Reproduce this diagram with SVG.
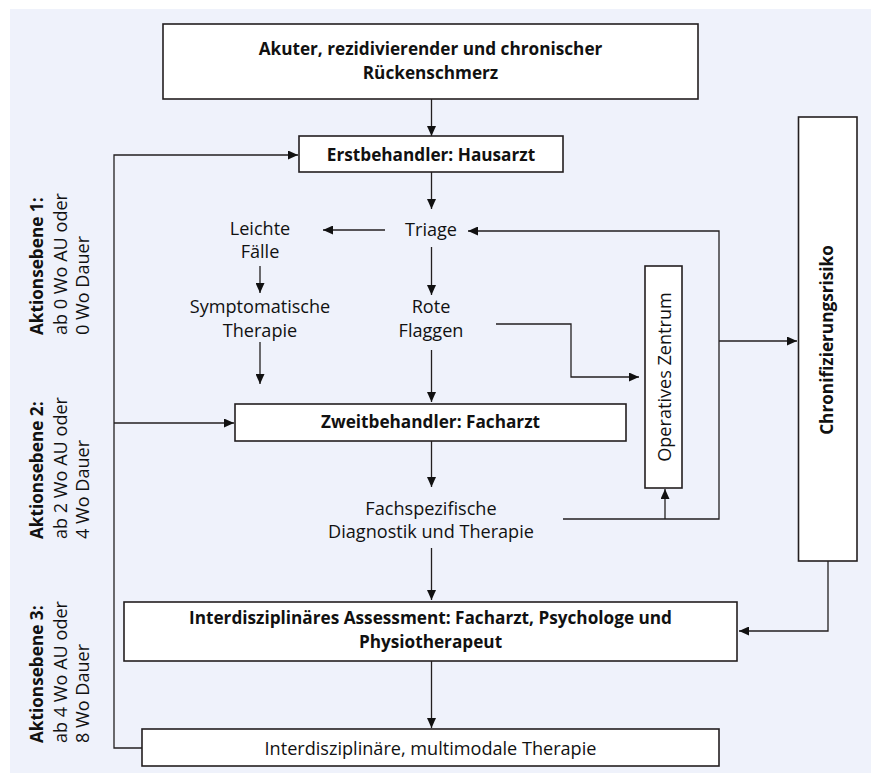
<svg xmlns="http://www.w3.org/2000/svg" width="871" height="773" viewBox="0 0 871 773">
<defs>
<marker id="ah" markerWidth="10" markerHeight="9" refX="10" refY="4.5" orient="auto" markerUnits="userSpaceOnUse">
<path d="M0,0 L10,4.5 L0,9 z" fill="#111"/>
</marker>
<style>
.box{fill:#fff;stroke:#231f20;stroke-width:1.6}
.ln{fill:none;stroke:#231f20;stroke-width:1.3}
.ar{marker-end:url(#ah)}
text{font-family:"Open Sans","Liberation Sans",sans-serif;fill:#111}
.t{font-size:18.1px}
.c{text-anchor:middle}
.b{font-weight:bold;font-size:17.2px}
</style>
</defs>
<rect x="10" y="9" width="861" height="764" fill="#eff2fb"/>
<g id="connectors">
<path class="ln ar" d="M431.5,99 V136"/>
<path class="ln ar" d="M142,748 H114 V155 H298"/>
<path class="ln ar" d="M114,423 H234"/>
<path class="ln ar" d="M431.5,172 V209"/>
<path class="ln ar" d="M385,230 H323"/>
<path class="ln ar" d="M260,266 V293"/>
<path class="ln ar" d="M260,342 V384"/>
<path class="ln ar" d="M431.5,247 V295"/>
<path class="ln ar" d="M431.5,350 V402"/>
<path class="ln ar" d="M496,324 H571 V377 H639"/>
<path class="ln ar" d="M563,519 H719 V231 H468"/>
<path class="ln ar" d="M665,519 V489"/>
<path class="ln ar" d="M719,341 H797"/>
<path class="ln ar" d="M431.5,441 V487"/>
<path class="ln ar" d="M431.5,548 V600"/>
<path class="ln ar" d="M828,561 V631 H739"/>
<path class="ln ar" d="M431.5,661 V728"/>
</g>
<g id="n-start">
<rect class="box" x="163" y="24" width="535" height="75"/>
<text class="b c" x="430.5" y="55">Akuter, rezidivierender und chronischer</text>
<text class="b c" x="430.5" y="79">Rückenschmerz</text>
</g>
<g id="n-erst">
<rect class="box" x="299" y="136" width="264" height="36"/>
<text class="b c" x="431" y="161">Erstbehandler: Hausarzt</text>
</g>
<g id="n-triage"><text class="t c" x="431" y="236">Triage</text></g>
<g id="n-leichte"><text class="t c" x="260" y="235">Leichte</text><text class="t c" x="260" y="258">Fälle</text></g>
<g id="n-sympt"><text class="t c" x="260" y="313">Symptomatische</text><text class="t c" x="260" y="337">Therapie</text></g>
<g id="n-rote"><text class="t c" x="431" y="313">Rote</text><text class="t c" x="431" y="337">Flaggen</text></g>
<g id="n-zweit">
<rect class="box" x="235" y="404" width="391" height="37"/>
<text class="b c" x="430.5" y="428">Zweitbehandler: Facharzt</text>
</g>
<g id="n-fach"><text class="t c" x="431" y="515">Fachspezifische</text><text class="t c" x="431" y="538">Diagnostik und Therapie</text></g>
<g id="n-op">
<rect class="box" x="645" y="266" width="37" height="222"/>
<text class="t c" transform="translate(671,377) rotate(-90)">Operatives Zentrum</text>
</g>
<g id="n-chron">
<rect class="box" x="798.5" y="117" width="58.5" height="444"/>
<text class="b c" transform="translate(833,340) rotate(-90)">Chronifizierungsrisiko</text>
</g>
<g id="n-assess">
<rect class="box" x="124" y="602" width="613" height="59"/>
<text class="b c" x="430.5" y="624">Interdisziplinäres Assessment: Facharzt, Psychologe und</text>
<text class="b c" x="430.5" y="648">Physiotherapeut</text>
</g>
<g id="n-multi">
<rect class="box" x="142" y="729" width="577" height="37"/>
<text class="t c" x="430.5" y="755">Interdisziplinäre, multimodale Therapie</text>
</g>
<g id="labels">
<g transform="translate(43,335) rotate(-90)"><text class="b" x="0" y="0">Aktionsebene 1:</text><text class="t" x="0" y="24">ab 0 Wo AU oder</text><text class="t" x="0" y="46">0 Wo Dauer</text></g>
<g transform="translate(43,539) rotate(-90)"><text class="b" x="0" y="0">Aktionsebene 2:</text><text class="t" x="0" y="24">ab 2 Wo AU oder</text><text class="t" x="0" y="46">4 Wo Dauer</text></g>
<g transform="translate(43,743) rotate(-90)"><text class="b" x="0" y="0">Aktionsebene 3:</text><text class="t" x="0" y="24">ab 4 Wo AU oder</text><text class="t" x="0" y="46">8 Wo Dauer</text></g>
</g>
</svg>
